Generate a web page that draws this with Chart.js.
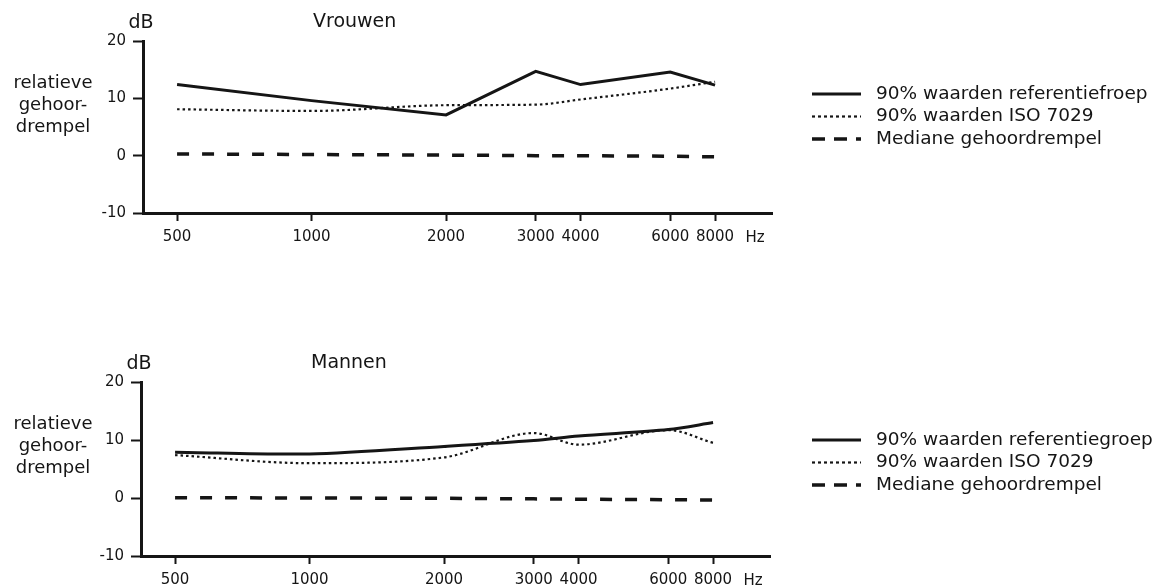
<!DOCTYPE html>
<html>
<head>
<meta charset="utf-8">
<script src="https://cdn.jsdelivr.net/npm/chart.js@4.4.1/dist/chart.umd.min.js"></script>
<style>
  html, body { margin: 0; padding: 0; background: #fff; }
  #wrap { position: relative; width: 1162px; height: 587px; overflow: hidden; }
  canvas { position: absolute; left: 0; }
</style>
</head>
<body>
<div id="wrap">
  <canvas id="chart-vrouwen" width="1162" height="293" style="top:0"></canvas>
  <canvas id="chart-mannen" width="1162" height="294" style="top:293px"></canvas>
</div>
<script>
// Frequencies (Hz) and the printed axis labels
var FREQS = [500, 1000, 2000, 3000, 4000, 6000, 8000];
var FREQ_LABELS = ['500', '1000', '2000', '3000', '4000', '6000', '8000'];
// spacing of the frequencies along the printed axis (in axis steps)
var FREQ_STEPS = [0, 3, 6, 8, 9, 11, 12];
var Y_TICKS = [-10, 0, 10, 20];

// Vrouwen (dB)
var vrouwenRef = [12.4, 9.6, 7.1, 14.7, 12.4, 14.6, 12.3];
var vrouwenIso = [8.1, 7.8, 8.8, 8.9, 9.8, 11.7, 12.9];
var vrouwenMed = [0.3, 0.2, 0.1, 0.0, 0.0, -0.1, -0.2];

// Mannen (dB)
var mannenRef = [7.9, 7.6, 8.9, 9.9, 10.7, 11.8, 13.0];
var mannenIso = [7.4, 6.0, 7.0, 11.2, 9.2, 11.7, 9.5];
var mannenMed = [0.05, 0.0, -0.05, -0.15, -0.2, -0.3, -0.35];

var INK = '#151515';
var FONT = '"DejaVu Sans", sans-serif';

function points(values) {
    return FREQS.map(function (f, i) {
        return { x: FREQ_STEPS[i], y: values[i] };
    });
}

// titles, side label, "Hz" and the legend, drawn around the chart area
var decor = {
    id: 'decor',
    afterDraw: function (chart, args, opts) {
        var ctx = chart.ctx;
        var a = chart.chartArea;
        ctx.save();
        ctx.fillStyle = INK;
        ctx.textBaseline = 'middle';

        ctx.font = '19px ' + FONT;
        ctx.textAlign = 'center';
        ctx.fillText('dB', a.left - 2, a.top - 18);
        ctx.textAlign = 'left';
        ctx.fillText(opts.title, a.left + 170, a.top - 19);

        ctx.font = '18px ' + FONT;
        ctx.textAlign = 'center';
        ['relatieve', 'gehoor-', 'drempel'].forEach(function (t, i) {
            ctx.fillText(t, 53, a.top + 42 + i * 22);
        });

        ctx.font = '15px ' + FONT;
        ctx.fillText('Hz', a.right - 17, a.bottom + 25);

        // legend
        ctx.font = '18.5px ' + FONT;
        ctx.textAlign = 'left';
        chart.data.datasets.forEach(function (ds, i) {
            var y = opts.legendTop + i * 22.5;
            ctx.save();
            ctx.strokeStyle = ds.borderColor;
            ctx.lineWidth = ds.legendWidth || ds.borderWidth;
            ctx.setLineDash(ds.legendDash || []);
            ctx.beginPath();
            ctx.moveTo(812, y);
            ctx.lineTo(861, y);
            ctx.stroke();
            ctx.restore();
            ctx.fillText(ds.label, 876, y);
        });
        ctx.restore();
    }
};

function makeChart(id, cfg) {
    var canvas = document.getElementById(id);
    var xAxisHeight = 30;
    return new Chart(canvas.getContext('2d'), {
        type: 'line',
        data: {
            datasets: [{
                label: cfg.refLabel,
                data: points(cfg.ref),
                borderColor: INK,
                borderWidth: 3,
                tension: cfg.refTension,
                pointRadius: 0
            }, {
                label: '90% waarden ISO 7029',
                data: points(cfg.iso),
                borderColor: INK,
                borderWidth: 2.2,
                borderDash: [2.5, 3],
                legendDash: [3, 3],
                cubicInterpolationMode: 'monotone',
                pointRadius: 0
            }, {
                label: 'Mediane gehoordrempel',
                data: points(cfg.med),
                borderColor: INK,
                borderWidth: 3.5,
                borderDash: [12, 13],
                legendDash: [13, 9],
                pointRadius: 0
            }]
        },
        options: {
            responsive: false,
            animation: false,
            devicePixelRatio: 1,
            layout: {
                padding: {
                    left: 0,
                    right: 1162 - cfg.right,
                    top: cfg.top,
                    bottom: canvas.height - cfg.bottom - xAxisHeight
                }
            },
            scales: {
                x: {
                    type: 'linear',
                    min: -0.76,
                    max: 13.27,
                    afterBuildTicks: function (s) {
                        s.ticks = FREQ_STEPS.map(function (v) { return { value: v }; });
                    },
                    afterFit: function (s) { s.height = xAxisHeight; },
                    ticks: {
                        autoSkip: false,
                        maxRotation: 0,
                        padding: 7,
                        color: INK,
                        font: { family: FONT, size: 15 },
                        callback: function (v, i) { return FREQ_LABELS[i]; }
                    },
                    grid: { drawOnChartArea: false, tickLength: 8, tickWidth: 2, tickColor: INK },
                    border: { color: INK, width: 3 }
                },
                y: {
                    min: -10,
                    max: 20,
                    afterBuildTicks: function (s) {
                        s.ticks = Y_TICKS.map(function (v) { return { value: v }; });
                    },
                    afterFit: function (s) { s.width = cfg.left; },
                    ticks: {
                        padding: 7,
                        color: INK,
                        font: { family: FONT, size: 15 }
                    },
                    grid: { drawOnChartArea: false, tickLength: 10, tickWidth: 2, tickColor: INK },
                    border: { color: INK, width: 3 }
                }
            },
            plugins: {
                legend: { display: false },
                tooltip: { enabled: false },
                decor: { title: cfg.title, legendTop: cfg.legendTop }
            }
        },
        plugins: [decor]
    });
}

makeChart('chart-vrouwen', {
    title: 'Vrouwen',
    refLabel: '90% waarden referentiefroep',
    ref: vrouwenRef, iso: vrouwenIso, med: vrouwenMed,
    refTension: 0,
    left: 143, right: 772, top: 41, bottom: 213,
    legendTop: 94
});

makeChart('chart-mannen', {
    title: 'Mannen',
    refLabel: '90% waarden referentiegroep',
    ref: mannenRef, iso: mannenIso, med: mannenMed,
    refTension: 0.3,
    left: 141, right: 770, top: 89, bottom: 263,
    legendTop: 147
});
</script>
</body>
</html>
